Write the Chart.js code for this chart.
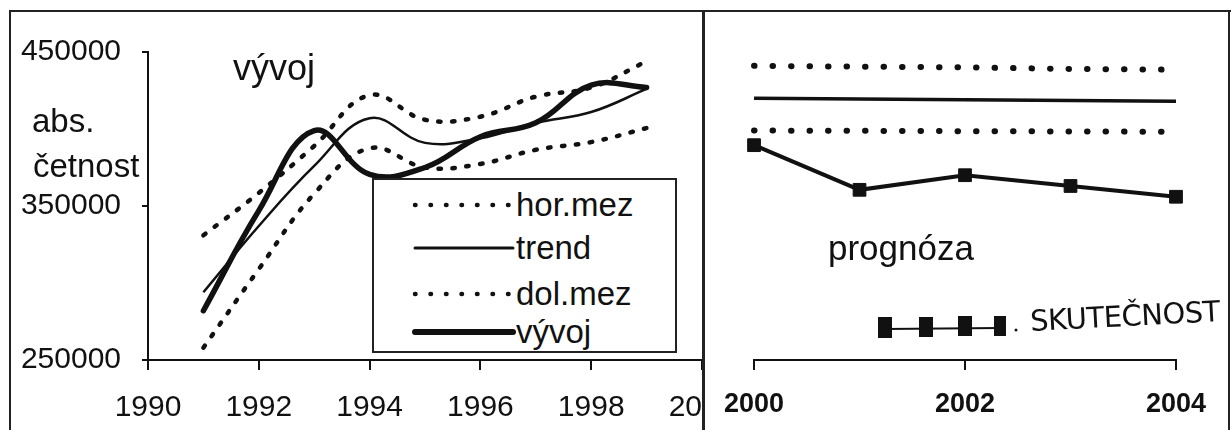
<!DOCTYPE html>
<html><head><meta charset="utf-8">
<script src="https://cdn.jsdelivr.net/npm/chart.js@4.4.1/dist/chart.umd.min.js"></script>
<style>
html,body{margin:0;padding:0;background:#fff;width:1232px;height:430px;overflow:hidden;font-family:"Liberation Sans",Arial,sans-serif;color:#111;}
.abs{position:absolute;}
#leftWrap{left:0;top:0;width:703px;height:430px;overflow:hidden;}
#rightWrap{left:706px;top:0;width:524px;height:430px;}
.txt{position:absolute;white-space:nowrap;line-height:1;color:#111;}
.line{position:absolute;background:#222;}
</style></head><body>
<div id="leftWrap" class="abs"><canvas id="leftChart" width="780" height="430"></canvas></div>
<div id="rightWrap" class="abs"><canvas id="rightChart" width="524" height="430"></canvas></div>

<div class="line" style="left:10px;top:10px;width:1221px;height:2px;"></div>
<div class="line" style="left:9px;top:10px;width:2px;height:420px;"></div>
<div class="line" style="left:1228px;top:10px;width:2px;height:420px;"></div>
<div class="line" style="left:702px;top:10px;width:3px;height:420px;"></div>

<div class="txt" style="left:233px;top:50px;font-size:36px;">vývoj</div>
<div class="txt" style="left:32px;top:104px;font-size:33px;">abs.</div>
<div class="txt" style="left:33px;top:149px;font-size:33px;">četnost</div>
<div class="txt" style="left:828px;top:230px;font-size:35px;">prognóza</div>

<div id="legend" class="abs" style="left:372px;top:178px;width:301px;height:171px;border:2px solid #222;background:#fff;"></div>

<svg class="abs" style="left:870px;top:310px;" width="150" height="40">
  <line x1="15" y1="19" x2="130" y2="18" stroke="#111" stroke-width="2"/>
  <rect x="8" y="7" width="14" height="21" fill="#111"/>
  <rect x="49" y="7" width="14" height="20" fill="#111"/>
  <rect x="88" y="6" width="14" height="20" fill="#111"/>
  <rect x="124" y="6" width="12" height="20" fill="#111"/>
  <circle cx="146" cy="20" r="1.5" fill="#111"/>
</svg>
<div class="txt" style="left:1031px;top:307px;transform:rotate(-3deg);transform-origin:left bottom;letter-spacing:-0.5px;font-family:'DejaVu Sans',sans-serif;font-size:29px;">SKUTEČNOST</div>

<script>
// ---------- data ----------
const seriesNames = ['hor.mez', 'trend', 'dol.mez', 'vývoj'];
const actualName = 'SKUTEČNOST';

const yearsLeft = [1991, 1992, 1993, 1994, 1995, 1996, 1997, 1998, 1999];
const horMezLeft = [331000, 358500, 389000, 422000, 406000, 408000, 421000, 427000, 444000];
const trendLeft  = [294000, 337000, 376000, 407000, 391000, 394000, 404000, 411000, 426000];
const dolMezLeft = [258000, 309000, 358000, 387500, 375000, 377300, 386500, 391500, 400600];
const vyvojLeft  = [282000, 347000, 399000, 370500, 375000, 395000, 404000, 428500, 427000];

const yearsRight = [2000, 2001, 2002, 2003, 2004];
const horMezRight = [441000, 440500, 440000, 439000, 438500];
const trendRight  = [420000, 419500, 419000, 418500, 418000];
const dolMezRight = [399000, 398800, 398600, 398400, 398200];
const actualRight = [389500, 360500, 370000, 363000, 356000];

const xTicksLeft = [1990, 1992, 1994, 1996, 1998, 2000];
const xTicksRight = [2000, 2002, 2004];
const yTicks = [250000, 350000, 450000];
const yMin = 250000, yMax = 450000;

// ---------- helpers ----------
const ink = '#111';
const pts = (xs, ys) => xs.map((x, i) => ({x: x, y: ys[i]}));

function dottedLeft(label, data) {
  return {label, data, borderColor: ink, borderWidth: 4.5, borderDash: [2.5, 11.5],
    borderCapStyle: 'round', pointRadius: 0, tension: 0.4, fill: false, clip: false};
}

// ---------- left chart ----------
new Chart(document.getElementById('leftChart'), {
  type: 'line',
  data: {
    datasets: [
      dottedLeft(seriesNames[0], pts(yearsLeft, horMezLeft)),
      {label: seriesNames[1], data: pts(yearsLeft, trendLeft), borderColor: ink, borderWidth: 2.5,
        pointRadius: 0, tension: 0.4, fill: false, clip: false},
      dottedLeft(seriesNames[2], pts(yearsLeft, dolMezLeft)),
      {label: seriesNames[3], data: pts(yearsLeft, vyvojLeft), borderColor: ink, borderWidth: 5.5,
        borderCapStyle: 'round', pointRadius: 0, tension: 0.4, fill: false, clip: false}
    ]
  },
  options: {
    responsive: false, animation: false, devicePixelRatio: 1,
    layout: {padding: {left: 0, top: 52, right: 78, bottom: 0}},
    plugins: {legend: {display: false}, tooltip: {enabled: false}},
    scales: {
      x: {
        type: 'linear', min: 1990, max: 2000,
        afterBuildTicks: s => { s.ticks = xTicksLeft.map(v => ({value: v})); },
        afterFit: s => { s.height = 70; },
        grid: {drawOnChartArea: false, drawTicks: true, tickLength: 10, color: ink, lineWidth: 2},
        border: {display: true, color: ink, width: 2},
        ticks: {color: ink, padding: 20, maxRotation: 0, autoSkip: false,
          font: {family: '"Liberation Sans", Arial, sans-serif', size: 30},
          callback: v => String(v)}
      },
      y: {
        type: 'linear', min: yMin, max: yMax,
        afterBuildTicks: s => { s.ticks = yTicks.map(v => ({value: v})); },
        afterFit: s => { s.width = 148; },
        grid: {drawOnChartArea: false, drawTicks: true, tickLength: 6, color: ink, lineWidth: 2},
        border: {display: true, color: ink, width: 2},
        ticks: {color: ink, padding: 21, autoSkip: false,
          font: {family: '"Liberation Sans", Arial, sans-serif', size: 30},
          callback: v => String(v)}
      }
    }
  }
});

// ---------- right chart ----------
new Chart(document.getElementById('rightChart'), {
  type: 'line',
  data: {
    datasets: [
      {label: seriesNames[0], data: pts(yearsRight, horMezRight), borderColor: ink, borderWidth: 6,
        borderDash: [0.5, 18], borderCapStyle: 'round', pointRadius: 0, tension: 0, clip: false},
      {label: seriesNames[1], data: pts(yearsRight, trendRight), borderColor: ink, borderWidth: 3.5,
        pointRadius: 0, tension: 0, clip: false},
      {label: seriesNames[2], data: pts(yearsRight, dolMezRight), borderColor: ink, borderWidth: 6,
        borderDash: [0.5, 18], borderCapStyle: 'round', pointRadius: 0, tension: 0, clip: false},
      {label: actualName, data: pts(yearsRight, actualRight), borderColor: ink, borderWidth: 4,
        pointStyle: 'rect', pointRadius: 9, pointBackgroundColor: ink, pointBorderColor: ink,
        pointBorderWidth: 1, tension: 0, clip: false}
    ]
  },
  options: {
    responsive: false, animation: false, devicePixelRatio: 1,
    layout: {padding: {left: 46, top: 52, right: 54, bottom: 0}},
    plugins: {legend: {display: false}, tooltip: {enabled: false}},
    scales: {
      x: {
        type: 'linear', min: 2000, max: 2004,
        afterBuildTicks: s => { s.ticks = xTicksRight.map(v => ({value: v})); },
        afterFit: s => { s.height = 70; },
        grid: {drawOnChartArea: false, drawTicks: true, tickLength: 10, color: ink, lineWidth: 2},
        border: {display: true, color: ink, width: 2},
        ticks: {color: ink, padding: 18, maxRotation: 0, autoSkip: false,
          font: {family: '"Liberation Sans", Arial, sans-serif', size: 27, weight: 'bold'},
          callback: v => String(v)}
      },
      y: {type: 'linear', min: yMin, max: yMax, display: false}
    }
  }
});

// ---------- legend (left panel) ----------
(function buildLegend() {
  const legend = document.getElementById('legend');
  const styles = [
    {type: 'dot', w: 4.5},
    {type: 'solid', w: 3},
    {type: 'dot', w: 4.5},
    {type: 'solid', w: 6}
  ];
  const rowY = [25, 68, 114, 152];   // sample centre within legend box
  seriesNames.forEach((name, i) => {
    const st = styles[i];
    const svg = document.createElementNS('http://www.w3.org/2000/svg', 'svg');
    svg.setAttribute('width', '110'); svg.setAttribute('height', '14');
    svg.style.position = 'absolute';
    svg.style.left = '37px';
    svg.style.top = (rowY[i] - 7) + 'px';
    const ln = document.createElementNS('http://www.w3.org/2000/svg', 'line');
    ln.setAttribute('x1', '4'); ln.setAttribute('x2', '102');
    ln.setAttribute('y1', '7'); ln.setAttribute('y2', '7');
    ln.setAttribute('stroke', ink); ln.setAttribute('stroke-width', st.w);
    ln.setAttribute('stroke-linecap', 'round');
    if (st.type === 'dot') ln.setAttribute('stroke-dasharray', '0.5 15');
    svg.appendChild(ln);
    legend.appendChild(svg);
    const t = document.createElement('div');
    t.className = 'txt';
    t.style.left = '142px';
    t.style.fontSize = '33px';
    t.style.top = (rowY[i] - 17) + 'px';
    t.textContent = name;
    legend.appendChild(t);
  });
})();
</script>
</body></html>
